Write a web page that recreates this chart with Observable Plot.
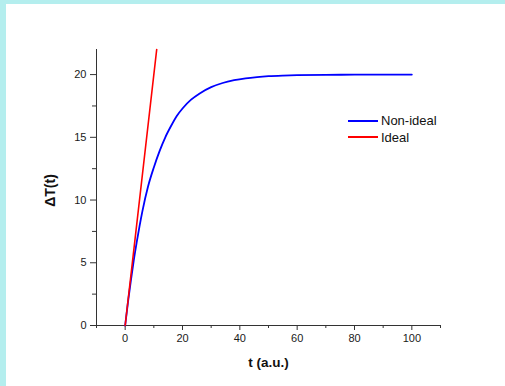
<!DOCTYPE html>
<html><head><meta charset="utf-8">
<script src="https://cdn.jsdelivr.net/npm/d3@7"></script>
<script src="https://cdn.jsdelivr.net/npm/@observablehq/plot@0.6"></script>
<style>
html,body{margin:0;padding:0;}
body{background:#b4eeee;width:505px;height:386px;overflow:hidden;position:relative;font-family:"Liberation Sans",Arial,sans-serif;}
#panel{position:absolute;left:6px;top:4px;width:499px;height:382px;background:#fff;}
#chart{position:absolute;left:0;top:0;}
.lg-line{position:absolute;left:342px;width:30px;height:2px;}
.lg-text{position:absolute;left:375px;font-size:13px;line-height:15px;color:#111;white-space:nowrap;}
</style></head>
<body>
<div id="panel">
  <div id="chart"></div>
  <div class="lg-line" style="top:115.7px;background:#0000ff"></div>
  <div class="lg-text" style="top:109.2px">Non-ideal</div>
  <div class="lg-line" style="top:132.3px;background:#ff0000"></div>
  <div class="lg-text" style="top:125.8px">Ideal</div>
</div>
<script>
// Non-ideal series
const tValues = [0, 1, 2, 3, 4, 5, 6, 8, 10, 12, 14, 16, 18, 20, 23, 26, 30, 34, 38, 42, 46, 50, 55, 60, 70, 80, 90, 100];
const nonIdealValues = [0, 1.9, 3.6, 5.2, 6.6, 7.9, 9.1, 11.1, 12.6, 13.9, 15.0, 15.9, 16.7, 17.3, 18.0, 18.5, 19.0, 19.33, 19.55, 19.7, 19.8, 19.87, 19.92, 19.95, 19.98, 19.99, 20, 20];
// Ideal series
const idealT = [0, 11];
const idealValues = [0, 22];

const xDomain = [-10, 110];
const yDomain = [0, 22];
const xTicks = [0, 20, 40, 60, 80, 100];
const xMinorTicks = [-10, 10, 30, 50, 70, 90, 110];
const yTicks = [0, 5, 10, 15, 20];
const yMinorTicks = [2.5, 7.5, 12.5, 17.5];
const xLabel = "t (a.u.)";
const yLabel = "ΔT(t)";

const nonIdeal = tValues.map((t, i) => ({t, v: nonIdealValues[i]}));
const ideal = idealT.map((t, i) => ({t, v: idealValues[i]}));

const chart = Plot.plot({
  width: 499, height: 382,
  marginLeft: 90, marginRight: 65, marginTop: 45, marginBottom: 61,
  x: {domain: xDomain},
  y: {domain: yDomain},
  style: {fontFamily: "Liberation Sans, Arial, sans-serif", fontSize: "11px", color: "#1a1a1a", background: "white", overflow: "visible"},
  marks: [
    Plot.axisX({ticks: xTicks, tickSize: 5, tickPadding: 4, label: null, stroke: "#333"}),
    Plot.axisX({ticks: xMinorTicks, tickSize: 3, tickFormat: () => "", label: null, stroke: "#333"}),
    Plot.axisY({ticks: yTicks, tickSize: 6, tickPadding: 4, label: null, stroke: "#333"}),
    Plot.axisY({ticks: yMinorTicks, tickSize: 4, tickFormat: () => "", label: null, stroke: "#333"}),
    Plot.ruleY([yDomain[0]], {stroke: "#333", strokeWidth: 1}),
    Plot.ruleX([xDomain[0]], {stroke: "#333", strokeWidth: 1}),
    Plot.line(nonIdeal, {x: "t", y: "v", stroke: "#0000ff", strokeWidth: 1.8, curve: "monotone-x"}),
    Plot.line(ideal, {x: "t", y: "v", stroke: "#ff0000", strokeWidth: 1.6}),
    Plot.text([xLabel], {text: d => d, frameAnchor: "bottom", dy: 37, lineAnchor: "middle", fontWeight: "bold", fontSize: 13.5, fill: "#111"}),
    Plot.text([yLabel], {text: d => d, frameAnchor: "left", rotate: -90, dx: -46, dy: 3, lineAnchor: "middle", textAnchor: "middle", fontWeight: "bold", fontSize: 14, fill: "#111"})
  ]
});
document.getElementById("chart").appendChild(chart);
</script>
</body></html>
